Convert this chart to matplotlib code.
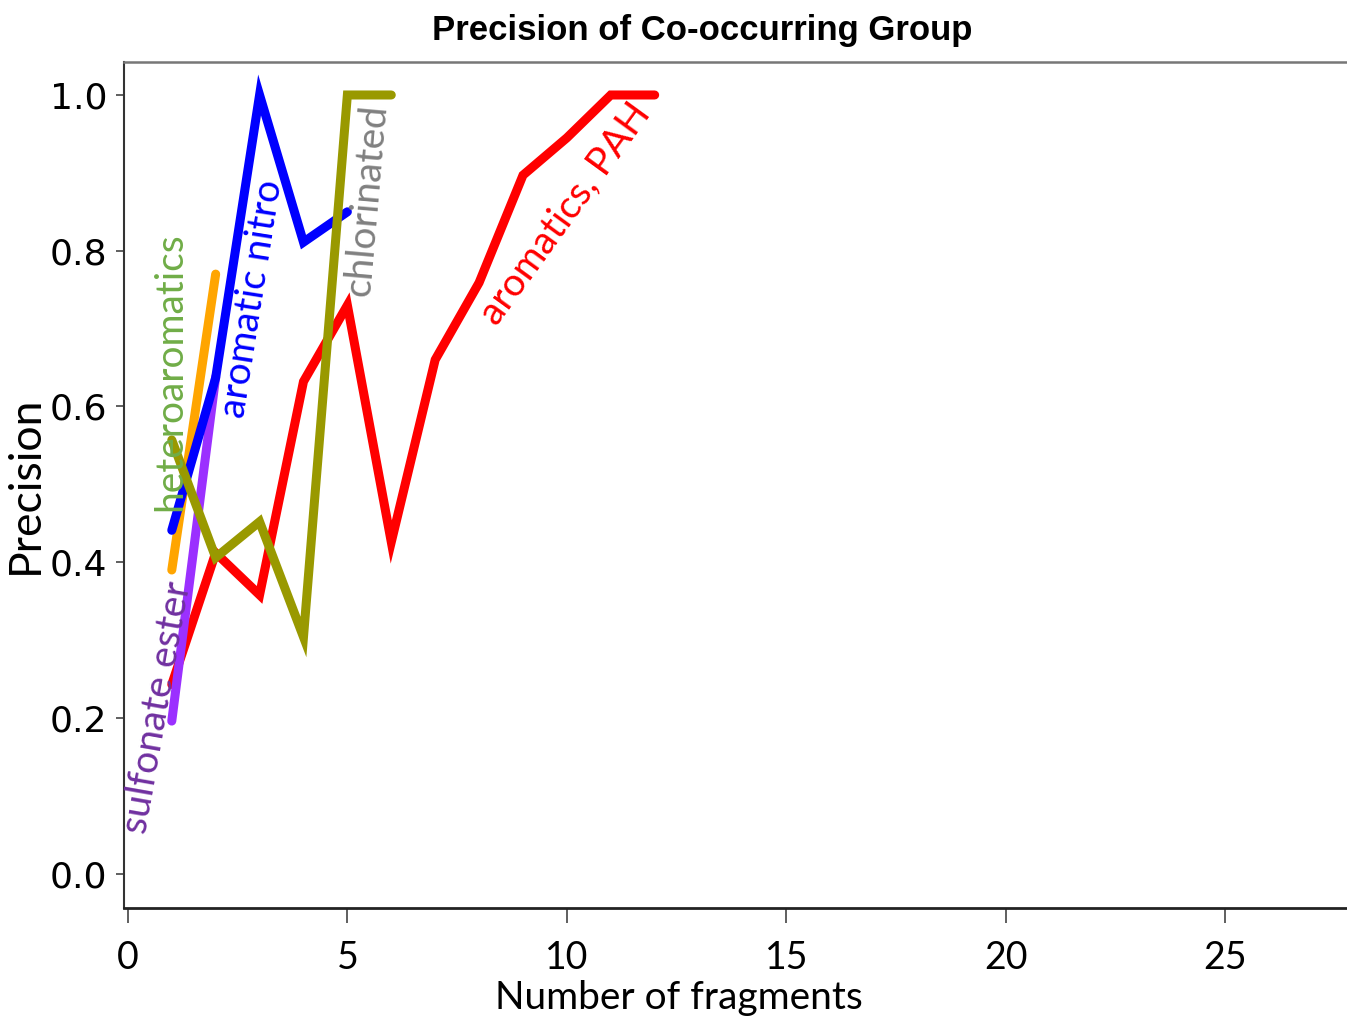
import matplotlib
matplotlib.use('Agg')
import matplotlib.pyplot as plt

# data
x_pah = [1, 2, 3, 4, 5, 6, 7, 8, 9, 10, 11, 12]
y_pah = [0.243, 0.412, 0.358, 0.632, 0.73, 0.426, 0.66, 0.759, 0.897, 0.945, 1.0, 1.0]

x_chlor = [1, 2, 3, 4, 5, 6]
y_chlor = [0.557, 0.406, 0.452, 0.304, 1.0, 1.0]

x_nitro = [1, 2, 3, 4, 5]
y_nitro = [0.441, 0.637, 1.0, 0.811, 0.85]

x_hetero = [1, 2]
y_hetero = [0.39, 0.77]

x_sulf = [1, 2]
y_sulf = [0.196, 0.638]

x_ticks = [0, 5, 10, 15, 20, 25]
y_ticks = [0.0, 0.2, 0.4, 0.6, 0.8, 1.0]

fig = plt.figure(figsize=(13.47, 10.21), dpi=100)
ax = fig.add_axes([0.092, 0.111, 0.908, 0.828])

lw = 6.5
ax.plot(x_pah, y_pah, color='#ff0000', lw=lw, solid_capstyle='round', solid_joinstyle='miter')
ax.plot(x_hetero, y_hetero, color='#ffa500', lw=lw, solid_capstyle='round')
ax.plot(x_sulf, y_sulf, color='#9b30ff', lw=lw, solid_capstyle='round')
ax.plot(x_nitro, y_nitro, color='#0000ff', lw=lw, solid_capstyle='round', solid_joinstyle='miter')
ax.plot(x_chlor, y_chlor, color='#999900', lw=lw, solid_capstyle='round', solid_joinstyle='miter')

# series labels
lab = dict(fontsize=28, family='Lato', ha='center', va='center', rotation_mode='anchor')
ax.text(0.96, 0.645, 'heteroaromatics', color='#70ad47', rotation=90, **lab)
ax.text(2.83, 0.739, 'aromatic nitro', color='#0000ff', rotation=81, **lab)
ax.text(5.44, 0.865, 'chlorinated', color='#808080', rotation=85, **lab)
ax.text(9.97, 0.848, 'aromatics, PAH', color='#ff0000', rotation=54, **lab)
ax.text(0.66, 0.213, 'sulfonate ester', color='#7030a0', rotation=80, **lab)

ax.set_xlim(-0.09, 27.77)
ax.set_ylim(-0.0436, 1.042)
ax.set_xticks(x_ticks)
ax.set_yticks(y_ticks)
ax.set_yticklabels(['%.1f' % v for v in y_ticks], fontsize=26, family='DejaVu Sans')
ax.set_xticklabels([str(v) for v in x_ticks], fontsize=27, family='Lato')
ax.tick_params(axis='x', length=11, width=1.2, pad=12, color='#444444')
ax.tick_params(axis='y', length=6, width=1.2, pad=6, color='#444444')

ax.spines['right'].set_visible(False)
ax.spines['top'].set_color('#777777')
ax.spines['top'].set_linewidth(1.8)
ax.spines['left'].set_color('#333333')
ax.spines['bottom'].set_color('#222222')
ax.spines['left'].set_linewidth(1.5)
ax.spines['bottom'].set_linewidth(2)

ax.set_xlabel('Number of fragments', fontsize=28, family='Lato')
ax.xaxis.set_label_coords(0.454, -0.085)
ax.set_ylabel('Precision', fontsize=32, family='Lato')
ax.yaxis.set_label_coords(-0.064, 0.5)
fig.text(0.521, 0.97, 'Precision of Co-occurring Group', ha='center', va='center',
         fontsize=25, fontweight='bold', family=['Liberation Sans Narrow', 'Liberation Sans'])

plt.savefig('out.png', dpi=100)
